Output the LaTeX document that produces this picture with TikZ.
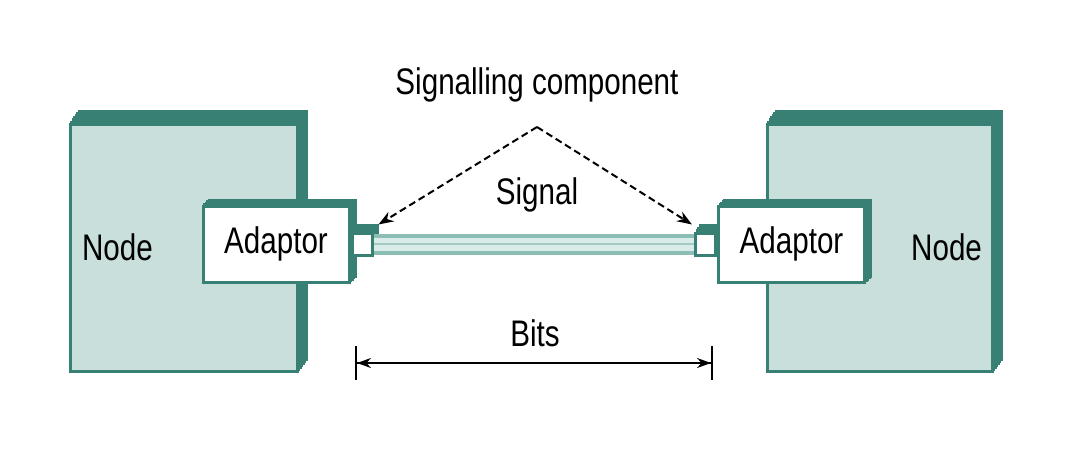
\documentclass[tikz,border=0pt]{standalone}
\usepackage{fontspec}
\setmainfont[FakeStretch=0.8]{Liberation Sans}
\usepackage{tikz}
\usetikzlibrary{positioning, shadows, arrows.meta}
\definecolor{tealdark}{RGB}{56,127,116}
\definecolor{tealface}{RGB}{200,223,219}
\definecolor{tealmid}{RGB}{140,190,181}
\definecolor{teallight}{RGB}{218,236,233}
\tikzset{extrude/.style n args={2}{general shadow={fill=tealdark, draw=tealdark,
                                   shadow xshift=#1, shadow yshift=#2}}}
\tikzstyle{hostbox}=[rectangle, draw=tealdark, fill=tealface, line width=3pt,
                     minimum height=247pt, inner sep=0pt,
                     extrude={1.5pt}{2pt}, extrude={3pt}{4pt}, extrude={4.5pt}{6pt},
                     extrude={6pt}{8pt}, extrude={7.5pt}{10pt}, extrude={9pt}{12pt}]
\tikzstyle{adaptor}=[rectangle, draw=tealdark, fill=white, line width=3pt,
                     minimum width=146pt, minimum height=76pt, inner sep=0pt,
                     extrude={1.5pt}{1.5pt}, extrude={3pt}{3pt},
                     extrude={4.5pt}{4.5pt}, extrude={6pt}{6pt}]
\tikzstyle{port}=[rectangle, draw=tealdark, fill=white, line width=3pt,
                  minimum width=20pt, minimum height=22pt, inner sep=0pt,
                  extrude={1.5pt}{2.5pt}, extrude={3pt}{5pt}, extrude={5pt}{8pt}]
\tikzstyle{cable}=[line width=21pt, draw=tealmid,
                   postaction={draw=teallight, line width=13pt},
                   postaction={draw=tealmid!80, line width=2.5pt}]
\tikzstyle{pointer}=[line width=2pt, dash pattern=on 7pt off 4pt,
                     -{Stealth[length=15pt, width=11pt]}]

\begin{document}
\begin{tikzpicture}[x=1pt, y=-1pt, font=\fontsize{37}{44}\selectfont]
  \useasboundingbox (0,0) rectangle (1080,460);

  % Host nodes on both sides
  \node[hostbox, minimum width=227pt] (lhost) at (183.5,247.5) {};
  \node[hostbox, minimum width=225pt] (rhost) at (879.5,247.5) {};
  \node[right=10pt of lhost.west] (ltext) {Node};
  \node[left=8pt of rhost.east] (rtext) {Node};

  % Adaptors with their ports
  \node[adaptor] (ladapt) at (276,244) {Adaptor};
  \node[port, right=0pt of ladapt] (lport) {};
  \node[port] (rport) at (705.5,244) {};
  \node[adaptor, right=0pt of rport] (radapt) {Adaptor};

  % The signal line
  \draw[cable] (lport.east) -- (rport.west);
  \node (signal) at (537,195) {Signal};

  % Signalling component pointers
  \node (sigcomp) at (537,85) {Signalling component};
  \coordinate (apex) at (537,127);
  \draw[pointer] (apex) -- ([xshift=5pt, yshift=7pt]lport.north east);
  \draw[pointer] (apex) -- ([xshift=-2pt, yshift=7pt]rport.north west);

  % Bits dimension
  \coordinate (bitsL) at (355,363);
  \coordinate (bitsR) at (713,363);
  \draw[line width=2pt, {Bar[width=34pt]Stealth[length=14pt, width=10pt]}-{Stealth[length=14pt, width=10pt]Bar[width=34pt]}] (bitsL) -- (bitsR);
  \node (bits) at (535,333) {Bits};
\end{tikzpicture}
\end{document}
